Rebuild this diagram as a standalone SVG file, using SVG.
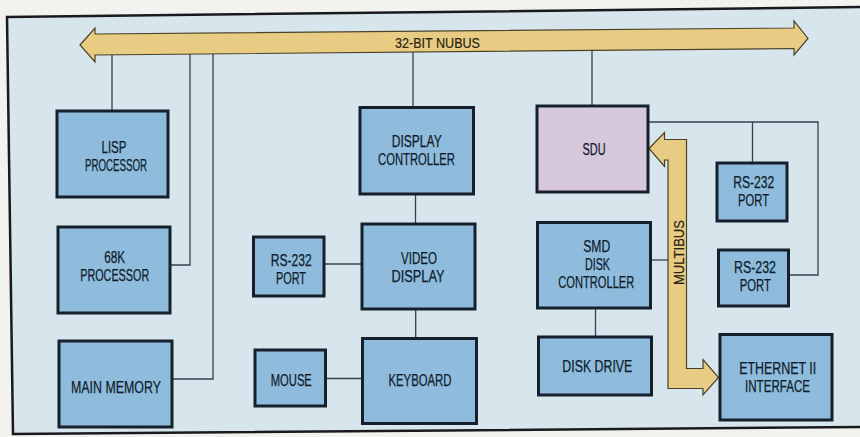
<svg xmlns="http://www.w3.org/2000/svg" width="860" height="437" viewBox="0 0 860 437">
<style>
.box{fill:#8fbcdc;stroke:#16202c;stroke-width:3}
.sdu{fill:#d8c8dc;stroke:#16202c;stroke-width:3}
.lbl{font-family:"Liberation Sans",Arial,sans-serif;font-size:16px;fill:#101c2c;text-anchor:middle;stroke:#101c2c;stroke-width:0.25}
.bl{font-family:"Liberation Sans",Arial,sans-serif;font-size:15px;fill:#2a2410;text-anchor:middle;stroke:#2a2410;stroke-width:0.2}
.ln{fill:none;stroke:#34434c;stroke-width:1.3}
.bus{fill:#e8cc84;stroke:#4a4228;stroke-width:1.2;stroke-linejoin:miter}
</style>
<rect x="0" y="0" width="860" height="437" fill="#f2f2ef"/>
<polygon points="7,17 864,7 864,427 13,434" fill="#d7e5ec" stroke="#1a1a1e" stroke-width="2.5"/>
<g id="connectors">
<line class="ln" x1="112" y1="45" x2="112" y2="111"/>
<path class="ln" d="M190,45 V265 H170"/>
<path class="ln" d="M213,45 V379 H172"/>
<line class="ln" x1="413" y1="45" x2="413" y2="107.5"/>
<line class="ln" x1="415.5" y1="194" x2="415.5" y2="224"/>
<line class="ln" x1="324" y1="264" x2="362" y2="264"/>
<line class="ln" x1="415.7" y1="309" x2="415.7" y2="338.5"/>
<line class="ln" x1="325.5" y1="378.5" x2="362.5" y2="378.5"/>
<line class="ln" x1="592" y1="40" x2="592" y2="106"/>
<path class="ln" d="M648,122 H818 V275 H788.5"/>
<line class="ln" x1="752.5" y1="122" x2="752.5" y2="163"/>
<line class="ln" x1="650.5" y1="260" x2="670" y2="260"/>
<line class="ln" x1="595.5" y1="308" x2="595.5" y2="337"/>
</g>
<g id="nubus">
<polygon class="bus" points="80,45 95,28 95,34 794,28 794,21 808,38.5 794,55 794,48.5 95,55 95,62"/>
<text class="bl" x="437.5" y="47.5" textLength="85" lengthAdjust="spacingAndGlyphs">32-BIT NUBUS</text>
</g>
<g id="multibus">
<polygon class="bus" points="649,148.5 664.5,132.5 664.5,139.5 686.5,139.5 686.5,368.5 703,368.5 703,359.5 718.5,377.5 703,395 703,388.5 668,388.5 668,160 664.5,160 664.5,166.5"/>
<text class="bl" transform="translate(684,252.5) rotate(-90)" x="0" y="0" textLength="65" lengthAdjust="spacingAndGlyphs">MULTIBUS</text>
</g>
<g id="lisp">
<rect class="box" x="57" y="111" width="111" height="86"/>
<text class="lbl" x="114" y="153.4" textLength="25" lengthAdjust="spacingAndGlyphs">LISP</text>
<text class="lbl" x="116" y="171.4" textLength="62" lengthAdjust="spacingAndGlyphs">PROCESSOR</text>
</g>
<g id="p68k">
<rect class="box" x="58" y="227" width="112" height="86"/>
<text class="lbl" x="114.7" y="263.3" textLength="21" lengthAdjust="spacingAndGlyphs">68K</text>
<text class="lbl" x="114.7" y="281.3" textLength="69" lengthAdjust="spacingAndGlyphs">PROCESSOR</text>
</g>
<g id="mainmem">
<rect class="box" x="59" y="341" width="113" height="86"/>
<text class="lbl" x="116" y="393" textLength="90" lengthAdjust="spacingAndGlyphs">MAIN MEMORY</text>
</g>
<g id="dispctl">
<rect class="box" x="360" y="107.5" width="113.5" height="86.5"/>
<text class="lbl" x="416.7" y="147.2" textLength="50" lengthAdjust="spacingAndGlyphs">DISPLAY</text>
<text class="lbl" x="416.5" y="165.2" textLength="77" lengthAdjust="spacingAndGlyphs">CONTROLLER</text>
</g>
<g id="video">
<rect class="box" x="362" y="224" width="113" height="85"/>
<text class="lbl" x="419" y="263.8" textLength="36" lengthAdjust="spacingAndGlyphs">VIDEO</text>
<text class="lbl" x="418" y="281.8" textLength="53" lengthAdjust="spacingAndGlyphs">DISPLAY</text>
</g>
<g id="rs232a">
<rect class="box" x="253.5" y="237" width="70.5" height="59"/>
<text class="lbl" x="291.3" y="265.7" textLength="41" lengthAdjust="spacingAndGlyphs">RS-232</text>
<text class="lbl" x="291" y="283.7" textLength="30" lengthAdjust="spacingAndGlyphs">PORT</text>
</g>
<g id="keyboard">
<rect class="box" x="362.5" y="338.5" width="114" height="85"/>
<text class="lbl" x="420" y="386" textLength="63" lengthAdjust="spacingAndGlyphs">KEYBOARD</text>
</g>
<g id="mouse">
<rect class="box" x="255" y="350" width="70.5" height="56"/>
<text class="lbl" x="291.3" y="386" textLength="41" lengthAdjust="spacingAndGlyphs">MOUSE</text>
</g>
<g id="sdu">
<rect class="sdu" x="537" y="106" width="111" height="86"/>
<text class="lbl" x="594" y="154.5" textLength="23" lengthAdjust="spacingAndGlyphs">SDU</text>
</g>
<g id="rs232b">
<rect class="box" x="717" y="163" width="70" height="58"/>
<text class="lbl" x="753.7" y="188" textLength="41" lengthAdjust="spacingAndGlyphs">RS-232</text>
<text class="lbl" x="753.5" y="206" textLength="31" lengthAdjust="spacingAndGlyphs">PORT</text>
</g>
<g id="rs232c">
<rect class="box" x="718.5" y="250" width="70" height="56"/>
<text class="lbl" x="755" y="273.2" textLength="42" lengthAdjust="spacingAndGlyphs">RS-232</text>
<text class="lbl" x="755.3" y="291.2" textLength="31" lengthAdjust="spacingAndGlyphs">PORT</text>
</g>
<g id="smd">
<rect class="box" x="537.5" y="222.5" width="113" height="85.5"/>
<text class="lbl" x="596.7" y="252" textLength="27" lengthAdjust="spacingAndGlyphs">SMD</text>
<text class="lbl" x="597.5" y="270" textLength="25" lengthAdjust="spacingAndGlyphs">DISK</text>
<text class="lbl" x="596.3" y="288" textLength="76" lengthAdjust="spacingAndGlyphs">CONTROLLER</text>
</g>
<g id="diskdrive">
<rect class="box" x="538.5" y="337" width="113" height="58"/>
<text class="lbl" x="597.3" y="372.3" textLength="70" lengthAdjust="spacingAndGlyphs">DISK DRIVE</text>
</g>
<g id="ethernet">
<rect class="box" x="720" y="334.5" width="112" height="85.5"/>
<text class="lbl" x="777.7" y="374" textLength="77" lengthAdjust="spacingAndGlyphs">ETHERNET II</text>
<text class="lbl" x="777.5" y="392" textLength="65" lengthAdjust="spacingAndGlyphs">INTERFACE</text>
</g>
</svg>
